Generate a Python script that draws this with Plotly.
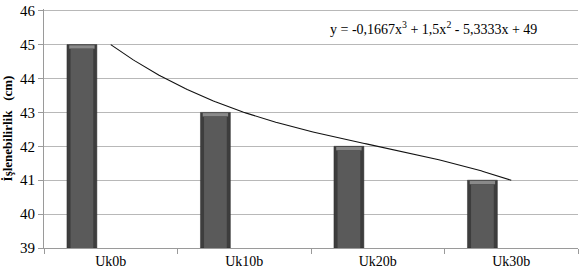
import numpy as np
import plotly.graph_objects as go

categories = ["Uk0b", "Uk10b", "Uk20b", "Uk30b"]
values = [45, 43, 42, 41]
# trendline coefficients shown on the chart (cubic)
coeffs = [-0.1667, 1.5, -5.3333, 49]
equation_text = "y = -0,1667x<sup>3</sup> + 1,5x<sup>2</sup> - 5,3333x + 49"
y_ticks = [39, 40, 41, 42, 43, 44, 45, 46]
y_min = 39

xpos = list(range(1, len(categories) + 1))
font_serif = "Liberation Serif"

fig = go.Figure()
# outer dark bar
fig.add_trace(go.Bar(
    x=xpos, y=[v - y_min for v in values], base=y_min, width=0.224, offset=-0.328,
    marker=dict(color="#3d3d3d", line=dict(color="#2e2e2e", width=0.5)),
    showlegend=False, hoverinfo="skip"))
# lighter top cap
fig.add_trace(go.Bar(
    x=xpos, y=[0.1 for v in values], base=[v - 0.12 for v in values],
    width=0.19, offset=-0.311,
    marker=dict(color="#8a8a8a", line=dict(width=0)),
    showlegend=False, hoverinfo="skip"))
# inner lighter body
fig.add_trace(go.Bar(
    x=xpos, y=[v - y_min - 0.12 for v in values], base=y_min, width=0.17, offset=-0.301,
    marker=dict(color="#5a5a5a", line=dict(width=0)),
    showlegend=False, hoverinfo="skip"))

xs = np.linspace(1, 4, 200)
ys = np.polyval(coeffs, xs)
fig.add_trace(go.Scatter(x=xs, y=ys, mode="lines",
                         line=dict(color="#111111", width=1.1),
                         showlegend=False, hoverinfo="skip"))

fig.add_annotation(x=0.531, xref="paper", y=45.5, yref="y", text=equation_text,
                   showarrow=False, xanchor="left", yanchor="middle",
                   font=dict(family=font_serif, size=14, color="#000000"))

fig.update_layout(
    width=583, height=272,
    margin=dict(l=44, r=5, t=3, b=24),
    plot_bgcolor="white", paper_bgcolor="white",
    barmode="overlay",
    font=dict(family=font_serif, size=13, color="#000000"),
    xaxis=dict(range=[0.5, 4.5], tickvals=xpos, ticktext=categories,
               ticks="", showgrid=False, zeroline=False,
               showline=True, linecolor="#9a9a9a", linewidth=1,
               tickfont=dict(family=font_serif, size=14, color="#000000"),
               minor=dict(tickvals=[0.5, 1.5, 2.5, 3.5, 4.5], ticks="outside",
                          ticklen=5, tickcolor="#9a9a9a", showgrid=False)),
    yaxis=dict(range=[39, 46.05], tickvals=y_ticks, ticks="outside", ticklen=5,
               ticklabeloverflow="allow",
               tickcolor="#9a9a9a", showgrid=True, gridcolor="#b8b8b8", gridwidth=1,
               zeroline=False, showline=True, linecolor="#9a9a9a", linewidth=1,
               tickfont=dict(family=font_serif, size=15, color="#000000"),
               title=dict(text="<b>İşlenebilirlik   (cm)</b>", standoff=4,
                          font=dict(family=font_serif, size=13, color="#000000"))),
)

fig.write_html("out.html")
